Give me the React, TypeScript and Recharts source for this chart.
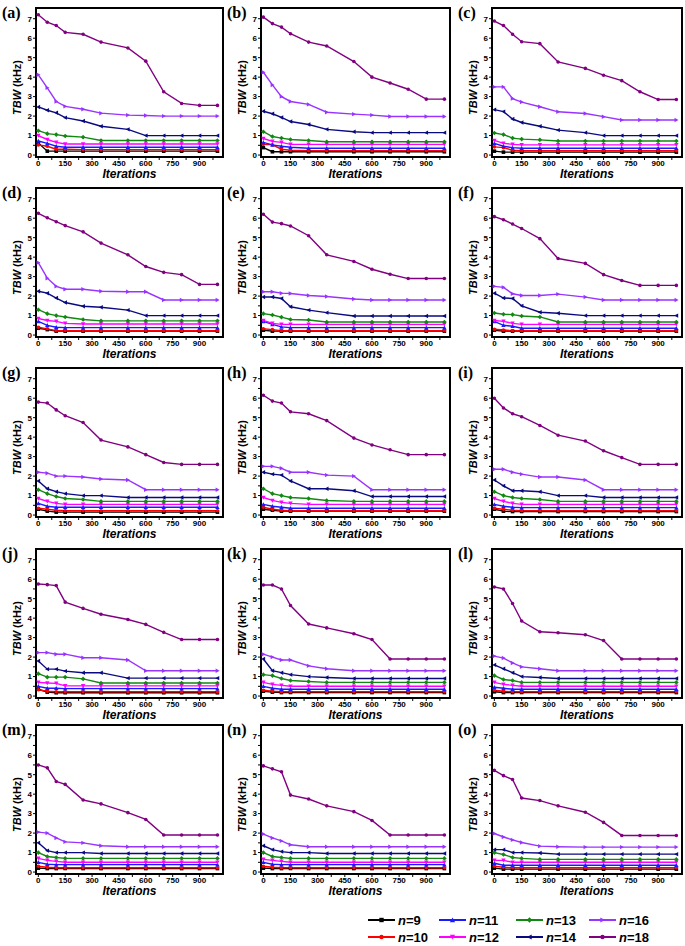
import React from "react";
import { LineChart, Line, XAxis, YAxis, ReferenceArea } from "recharts";

const ITERATIONS = [0, 50, 100, 150, 250, 350, 500, 600, 700, 800, 900, 1000];
const PANEL_LETTERS = ["a", "b", "c", "d", "e", "f", "g", "h", "i", "j", "k", "l", "m", "n", "o"];
const SERIES = ["n9", "n10", "n11", "n12", "n13", "n14", "n16", "n18"];
const SERIES_LABELS = ["9", "10", "11", "12", "13", "14", "16", "18"];
const X_TICKS = [0, 75, 150, 225, 300, 375, 450, 525, 600, 675, 750, 825, 900, 975];
const Y_TICKS = [0, 0.5, 1, 1.5, 2, 2.5, 3, 3.5, 4, 4.5, 5, 5.5, 6, 6.5, 7];

// each array: one row per panel (a)..(o), values at ITERATIONS
const N9 = [
  [0.62, 0.2, 0.2, 0.2, 0.2, 0.2, 0.2, 0.2, 0.2, 0.2, 0.2, 0.2],
  [0.38, 0.17, 0.17, 0.17, 0.17, 0.17, 0.17, 0.17, 0.17, 0.17, 0.17, 0.17],
  [0.2, 0.15, 0.15, 0.15, 0.15, 0.15, 0.15, 0.15, 0.15, 0.15, 0.15, 0.15],
  [0.35, 0.28, 0.2, 0.2, 0.2, 0.2, 0.2, 0.2, 0.2, 0.2, 0.2, 0.2],
  [0.25, 0.2, 0.2, 0.2, 0.2, 0.2, 0.2, 0.2, 0.2, 0.2, 0.2, 0.2],
  [0.25, 0.2, 0.2, 0.2, 0.2, 0.2, 0.2, 0.2, 0.2, 0.2, 0.2, 0.2],
  [0.3, 0.2, 0.15, 0.15, 0.15, 0.15, 0.15, 0.15, 0.15, 0.15, 0.15, 0.15],
  [0.3, 0.25, 0.2, 0.2, 0.2, 0.2, 0.2, 0.2, 0.2, 0.2, 0.2, 0.2],
  [0.3, 0.2, 0.18, 0.18, 0.18, 0.18, 0.18, 0.18, 0.18, 0.18, 0.18, 0.18],
  [0.35, 0.2, 0.17, 0.17, 0.17, 0.17, 0.17, 0.17, 0.17, 0.17, 0.17, 0.17],
  [0.25, 0.2, 0.18, 0.18, 0.18, 0.18, 0.18, 0.18, 0.18, 0.18, 0.18, 0.18],
  [0.22, 0.18, 0.18, 0.18, 0.18, 0.18, 0.18, 0.18, 0.18, 0.18, 0.18, 0.18],
  [0.2, 0.18, 0.18, 0.18, 0.18, 0.18, 0.18, 0.18, 0.18, 0.18, 0.18, 0.18],
  [0.2, 0.18, 0.18, 0.18, 0.18, 0.18, 0.18, 0.18, 0.18, 0.18, 0.18, 0.18],
  [0.2, 0.15, 0.15, 0.15, 0.15, 0.15, 0.15, 0.15, 0.15, 0.15, 0.15, 0.15],
];
const N10 = [
  [0.52, 0.45, 0.3, 0.3, 0.28, 0.28, 0.28, 0.28, 0.28, 0.28, 0.28, 0.28],
  [0.55, 0.52, 0.3, 0.25, 0.22, 0.22, 0.22, 0.22, 0.22, 0.22, 0.22, 0.22],
  [0.42, 0.38, 0.25, 0.22, 0.22, 0.22, 0.22, 0.22, 0.22, 0.22, 0.22, 0.22],
  [0.4, 0.32, 0.22, 0.22, 0.22, 0.22, 0.22, 0.22, 0.22, 0.22, 0.22, 0.22],
  [0.32, 0.28, 0.22, 0.22, 0.22, 0.22, 0.22, 0.22, 0.22, 0.22, 0.22, 0.22],
  [0.3, 0.26, 0.22, 0.22, 0.22, 0.22, 0.22, 0.22, 0.22, 0.22, 0.22, 0.22],
  [0.35, 0.3, 0.25, 0.22, 0.22, 0.22, 0.22, 0.22, 0.22, 0.22, 0.22, 0.22],
  [0.4, 0.3, 0.25, 0.22, 0.22, 0.22, 0.22, 0.22, 0.22, 0.22, 0.22, 0.22],
  [0.35, 0.3, 0.25, 0.22, 0.22, 0.22, 0.22, 0.22, 0.22, 0.22, 0.22, 0.22],
  [0.32, 0.25, 0.22, 0.22, 0.22, 0.22, 0.22, 0.22, 0.22, 0.22, 0.22, 0.22],
  [0.3, 0.25, 0.22, 0.22, 0.22, 0.22, 0.22, 0.22, 0.22, 0.22, 0.22, 0.22],
  [0.3, 0.25, 0.22, 0.22, 0.22, 0.22, 0.22, 0.22, 0.22, 0.22, 0.22, 0.22],
  [0.3, 0.25, 0.22, 0.22, 0.22, 0.22, 0.22, 0.22, 0.22, 0.22, 0.22, 0.22],
  [0.3, 0.25, 0.22, 0.22, 0.22, 0.22, 0.22, 0.22, 0.22, 0.22, 0.22, 0.22],
  [0.3, 0.25, 0.22, 0.22, 0.22, 0.22, 0.22, 0.22, 0.22, 0.22, 0.22, 0.22],
];
const N11 = [
  [0.72, 0.6, 0.45, 0.4, 0.4, 0.4, 0.4, 0.4, 0.4, 0.4, 0.4, 0.4],
  [0.65, 0.52, 0.45, 0.4, 0.35, 0.35, 0.35, 0.35, 0.35, 0.35, 0.35, 0.35],
  [0.6, 0.45, 0.38, 0.35, 0.35, 0.35, 0.35, 0.35, 0.35, 0.35, 0.35, 0.35],
  [0.7, 0.5, 0.4, 0.38, 0.38, 0.38, 0.38, 0.38, 0.38, 0.38, 0.38, 0.38],
  [0.7, 0.55, 0.42, 0.38, 0.38, 0.38, 0.38, 0.38, 0.38, 0.38, 0.38, 0.38],
  [0.7, 0.5, 0.45, 0.35, 0.35, 0.35, 0.35, 0.35, 0.35, 0.35, 0.35, 0.35],
  [0.6, 0.45, 0.4, 0.4, 0.4, 0.4, 0.4, 0.4, 0.4, 0.4, 0.4, 0.4],
  [0.55, 0.45, 0.4, 0.35, 0.35, 0.35, 0.35, 0.35, 0.35, 0.35, 0.35, 0.35],
  [0.55, 0.45, 0.4, 0.38, 0.38, 0.38, 0.38, 0.38, 0.38, 0.38, 0.38, 0.38],
  [0.5, 0.4, 0.4, 0.38, 0.38, 0.38, 0.38, 0.38, 0.38, 0.38, 0.38, 0.38],
  [0.5, 0.4, 0.35, 0.35, 0.35, 0.35, 0.35, 0.35, 0.35, 0.35, 0.35, 0.35],
  [0.45, 0.4, 0.35, 0.35, 0.35, 0.35, 0.35, 0.35, 0.35, 0.35, 0.35, 0.35],
  [0.5, 0.4, 0.38, 0.38, 0.38, 0.38, 0.38, 0.38, 0.38, 0.38, 0.38, 0.38],
  [0.5, 0.4, 0.38, 0.38, 0.38, 0.38, 0.38, 0.38, 0.38, 0.38, 0.38, 0.38],
  [0.45, 0.35, 0.35, 0.35, 0.35, 0.35, 0.35, 0.35, 0.35, 0.35, 0.35, 0.35],
];
const N12 = [
  [1.0, 0.8, 0.65, 0.57, 0.57, 0.57, 0.57, 0.57, 0.57, 0.57, 0.57, 0.57],
  [0.85, 0.7, 0.65, 0.55, 0.55, 0.55, 0.55, 0.55, 0.55, 0.55, 0.55, 0.55],
  [0.75, 0.6, 0.55, 0.52, 0.52, 0.52, 0.52, 0.52, 0.52, 0.52, 0.52, 0.52],
  [0.85, 0.75, 0.7, 0.6, 0.57, 0.57, 0.57, 0.57, 0.57, 0.57, 0.57, 0.57],
  [0.75, 0.6, 0.55, 0.55, 0.55, 0.55, 0.55, 0.55, 0.55, 0.55, 0.55, 0.55],
  [0.75, 0.7, 0.6, 0.55, 0.55, 0.55, 0.55, 0.55, 0.55, 0.55, 0.55, 0.55],
  [0.85, 0.7, 0.6, 0.55, 0.55, 0.55, 0.55, 0.55, 0.55, 0.55, 0.55, 0.55],
  [0.9, 0.75, 0.65, 0.6, 0.55, 0.55, 0.55, 0.55, 0.55, 0.55, 0.55, 0.55],
  [0.85, 0.7, 0.6, 0.55, 0.55, 0.55, 0.55, 0.55, 0.55, 0.55, 0.55, 0.55],
  [0.7, 0.67, 0.65, 0.52, 0.52, 0.52, 0.52, 0.52, 0.52, 0.52, 0.52, 0.52],
  [0.7, 0.6, 0.55, 0.5, 0.5, 0.5, 0.5, 0.5, 0.5, 0.5, 0.5, 0.5],
  [0.7, 0.6, 0.55, 0.5, 0.5, 0.5, 0.5, 0.5, 0.5, 0.5, 0.5, 0.5],
  [0.7, 0.6, 0.55, 0.5, 0.5, 0.5, 0.5, 0.5, 0.5, 0.5, 0.5, 0.5],
  [0.65, 0.6, 0.55, 0.5, 0.5, 0.5, 0.5, 0.5, 0.5, 0.5, 0.5, 0.5],
  [0.6, 0.6, 0.5, 0.5, 0.5, 0.5, 0.5, 0.5, 0.5, 0.5, 0.5, 0.5],
];
const N13 = [
  [1.25, 1.1, 1.05, 0.98, 0.92, 0.75, 0.75, 0.75, 0.75, 0.75, 0.75, 0.75],
  [1.2, 0.95, 0.87, 0.8, 0.75, 0.68, 0.68, 0.68, 0.68, 0.68, 0.68, 0.68],
  [1.13, 1.05, 0.87, 0.82, 0.78, 0.72, 0.72, 0.72, 0.72, 0.72, 0.72, 0.72],
  [1.3, 1.1, 1.0, 0.93, 0.8, 0.73, 0.73, 0.73, 0.73, 0.73, 0.73, 0.73],
  [1.1, 1.03, 0.92, 0.8, 0.77, 0.67, 0.67, 0.67, 0.67, 0.67, 0.67, 0.67],
  [1.13, 1.07, 1.05, 0.98, 0.93, 0.67, 0.67, 0.67, 0.67, 0.67, 0.67, 0.67],
  [1.3, 1.1, 0.95, 0.85, 0.8, 0.7, 0.7, 0.7, 0.7, 0.7, 0.7, 0.7],
  [1.35, 1.1, 1.0, 0.9, 0.85, 0.75, 0.7, 0.7, 0.7, 0.7, 0.7, 0.7],
  [1.2, 1.0, 0.9, 0.85, 0.8, 0.7, 0.7, 0.7, 0.7, 0.7, 0.7, 0.7],
  [1.15, 0.97, 0.97, 0.97, 0.88, 0.67, 0.67, 0.67, 0.67, 0.67, 0.67, 0.67],
  [1.1, 1.05, 0.9, 0.8, 0.75, 0.7, 0.7, 0.7, 0.7, 0.7, 0.7, 0.7],
  [1.05, 0.85, 0.8, 0.7, 0.7, 0.7, 0.7, 0.7, 0.7, 0.7, 0.7, 0.7],
  [1.0, 0.8, 0.75, 0.7, 0.7, 0.7, 0.7, 0.7, 0.7, 0.7, 0.7, 0.7],
  [1.0, 0.8, 0.75, 0.7, 0.7, 0.7, 0.7, 0.7, 0.7, 0.7, 0.7, 0.7],
  [1.0, 0.9, 0.75, 0.7, 0.65, 0.65, 0.65, 0.65, 0.65, 0.65, 0.65, 0.65],
];
const N14 = [
  [2.47, 2.3, 2.17, 1.92, 1.75, 1.48, 1.32, 1.0, 1.0, 1.0, 1.0, 1.0],
  [2.25, 2.12, 1.93, 1.72, 1.57, 1.32, 1.2, 1.15, 1.15, 1.15, 1.15, 1.15],
  [2.33, 2.23, 1.85, 1.67, 1.48, 1.28, 1.15, 1.0, 1.0, 1.0, 1.0, 1.0],
  [2.25, 2.15, 1.9, 1.67, 1.48, 1.43, 1.28, 1.0, 1.0, 1.0, 1.0, 1.0],
  [1.95, 1.95, 1.88, 1.45, 1.28, 1.15, 0.98, 0.98, 0.98, 0.98, 0.98, 0.98],
  [2.15, 1.9, 1.88, 1.5, 1.17, 1.12, 1.0, 1.0, 1.0, 1.0, 1.0, 1.0],
  [1.75, 1.35, 1.2, 1.1, 1.0, 1.0, 0.9, 0.9, 0.9, 0.9, 0.9, 0.9],
  [2.2, 2.1, 2.05, 1.75, 1.35, 1.35, 1.25, 0.95, 0.95, 0.95, 0.95, 0.95],
  [1.8, 1.5, 1.25, 1.25, 1.2, 1.0, 1.0, 0.9, 0.9, 0.9, 0.9, 0.9],
  [1.8, 1.38, 1.38, 1.28, 1.2, 1.2, 0.92, 0.92, 0.92, 0.92, 0.92, 0.92],
  [1.9, 1.3, 1.2, 1.1, 1.0, 0.95, 0.9, 0.9, 0.9, 0.9, 0.9, 0.9],
  [1.6, 1.4, 1.2, 1.0, 0.95, 0.9, 0.9, 0.9, 0.9, 0.9, 0.9, 0.9],
  [1.5, 1.1, 1.0, 1.0, 1.0, 0.95, 0.95, 0.95, 0.95, 0.95, 0.95, 0.95],
  [1.35, 1.15, 1.05, 1.0, 1.0, 0.95, 0.95, 0.95, 0.95, 0.95, 0.95, 0.95],
  [1.15, 1.15, 1.0, 1.0, 0.98, 0.92, 0.92, 0.92, 0.92, 0.92, 0.92, 0.92],
];
const N16 = [
  [4.12, 3.45, 2.75, 2.5, 2.35, 2.15, 2.05, 2.03, 2.0, 2.0, 2.0, 2.0],
  [4.25, 3.6, 3.0, 2.75, 2.6, 2.2, 2.1, 2.05, 1.98, 1.98, 1.98, 1.98],
  [3.5, 3.5, 2.9, 2.72, 2.48, 2.22, 2.13, 1.97, 1.8, 1.8, 1.8, 1.8],
  [3.72, 2.92, 2.5, 2.35, 2.35, 2.25, 2.22, 2.22, 1.8, 1.8, 1.8, 1.8],
  [2.22, 2.22, 2.15, 2.13, 2.03, 1.98, 1.85, 1.8, 1.8, 1.8, 1.8, 1.8],
  [2.5, 2.45, 2.12, 2.03, 2.03, 2.1, 1.95, 1.8, 1.8, 1.8, 1.8, 1.8],
  [2.2, 2.15, 2.0, 2.0, 1.95, 1.85, 1.8, 1.3, 1.3, 1.3, 1.3, 1.3],
  [2.5, 2.5, 2.4, 2.2, 2.2, 2.05, 2.0, 1.3, 1.3, 1.3, 1.3, 1.3],
  [2.35, 2.35, 2.2, 2.1, 1.95, 1.95, 1.8, 1.3, 1.3, 1.3, 1.3, 1.3],
  [2.23, 2.23, 2.15, 2.15, 1.97, 1.97, 1.85, 1.3, 1.3, 1.3, 1.3, 1.3],
  [2.15, 2.0, 1.85, 1.85, 1.55, 1.4, 1.3, 1.3, 1.3, 1.3, 1.3, 1.3],
  [2.05, 1.95, 1.7, 1.5, 1.4, 1.3, 1.3, 1.3, 1.3, 1.3, 1.3, 1.3],
  [2.05, 2.0, 1.75, 1.55, 1.5, 1.35, 1.3, 1.3, 1.3, 1.3, 1.3, 1.3],
  [1.95, 1.75, 1.6, 1.4, 1.3, 1.3, 1.3, 1.3, 1.3, 1.3, 1.3, 1.3],
  [1.98, 1.8, 1.65, 1.52, 1.33, 1.3, 1.28, 1.28, 1.28, 1.28, 1.28, 1.28],
];
const N18 = [
  [7.2, 6.82, 6.65, 6.3, 6.2, 5.8, 5.5, 4.82, 3.25, 2.65, 2.55, 2.55],
  [7.08, 6.75, 6.57, 6.23, 5.8, 5.6, 4.8, 4.0, 3.7, 3.38, 2.87, 2.87],
  [6.88, 6.65, 6.2, 5.82, 5.72, 4.78, 4.45, 4.1, 3.82, 3.25, 2.85, 2.85],
  [6.25, 6.02, 5.82, 5.62, 5.3, 4.72, 4.12, 3.52, 3.22, 3.1, 2.6, 2.6],
  [6.2, 5.8, 5.72, 5.6, 5.1, 4.12, 3.78, 3.38, 3.12, 2.9, 2.9, 2.9],
  [6.08, 5.92, 5.7, 5.47, 4.95, 3.93, 3.68, 3.1, 2.8, 2.55, 2.55, 2.55],
  [5.8, 5.75, 5.4, 5.1, 4.75, 3.85, 3.5, 3.1, 2.7, 2.6, 2.6, 2.6],
  [6.15, 5.85, 5.75, 5.3, 5.2, 4.85, 3.95, 3.6, 3.35, 3.1, 3.1, 3.1],
  [6.0, 5.5, 5.2, 5.05, 4.6, 4.1, 3.8, 3.3, 2.95, 2.6, 2.6, 2.6],
  [5.75, 5.72, 5.67, 4.82, 4.5, 4.2, 3.93, 3.68, 3.27, 2.9, 2.9, 2.9],
  [5.7, 5.7, 5.5, 4.65, 3.7, 3.5, 3.2, 2.9, 1.9, 1.9, 1.9, 1.9],
  [5.6, 5.5, 4.75, 3.85, 3.3, 3.25, 3.15, 2.85, 1.9, 1.9, 1.9, 1.9],
  [5.5, 5.35, 4.65, 4.5, 3.7, 3.5, 3.05, 2.7, 1.9, 1.9, 1.9, 1.9],
  [5.45, 5.3, 5.15, 3.95, 3.75, 3.4, 3.1, 2.65, 1.9, 1.9, 1.9, 1.9],
  [5.22, 4.95, 4.75, 3.8, 3.67, 3.4, 3.07, 2.55, 1.88, 1.88, 1.88, 1.88],
];

const SERIES_DATA = [N9, N10, N11, N12, N13, N14, N16, N18];
const COLORS = ["#000000", "#ff0000", "#1a1aff", "#ff00ff", "#118811", "#0a0a80", "#9933ff", "#800080"];
const SHAPES = ["square", "circle", "up", "down", "diamond", "left", "right", "circle"];

// layout (page pixels) of each plot box
const COL_LEFT = [36, 261, 492];
const COL_W = [187, 189, 190];
const ROW_TOP = [8, 188, 368, 549, 725];
const PLOT_H = 149;
const X_DOMAIN = [-13, 1031];
const Y_DOMAIN = [-0.1, 7.55];
const FONT = '"Liberation Sans", Arial, sans-serif';

function markerPath(shape: string, cx: number, cy: number, r: number) {
  switch (shape) {
    case "square":
      return `M${cx - r},${cy - r}h${2 * r}v${2 * r}h${-2 * r}Z`;
    case "up":
      return `M${cx},${cy - r - 0.4}L${cx + r + 0.4},${cy + r}L${cx - r - 0.4},${cy + r}Z`;
    case "down":
      return `M${cx},${cy + r + 0.4}L${cx + r + 0.4},${cy - r}L${cx - r - 0.4},${cy - r}Z`;
    case "diamond":
      return `M${cx},${cy - r - 0.5}L${cx + r + 0.5},${cy}L${cx},${cy + r + 0.5}L${cx - r - 0.5},${cy}Z`;
    case "left":
      return `M${cx - r - 0.4},${cy}L${cx + r},${cy - r - 0.4}L${cx + r},${cy + r + 0.4}Z`;
    case "right":
      return `M${cx + r + 0.4},${cy}L${cx - r},${cy - r - 0.4}L${cx - r},${cy + r + 0.4}Z`;
    default:
      return `M${cx - r},${cy}a${r},${r} 0 1,0 ${2 * r},0a${r},${r} 0 1,0 ${-2 * r},0`;
  }
}

function makeDot(k: number) {
  return (props: any) => {
    const { cx, cy, index } = props;
    if (cx == null || cy == null) return <g key={`${SERIES[k]}-${index}`} />;
    return <path key={`${SERIES[k]}-${index}`} d={markerPath(SHAPES[k], cx, cy, 1.8)} fill={COLORS[k]} stroke="none" />;
  };
}

function panelRows(p: number) {
  return ITERATIONS.map((it, i) => {
    const row: Record<string, number> = { it };
    SERIES.forEach((s, k) => {
      row[s] = SERIES_DATA[k][p][i];
    });
    return row;
  });
}

const tickStyle = { fontSize: 8, fontWeight: 700, fill: "#000", fontFamily: FONT };

function YTitle(props: any) {
  const vb = props.viewBox;
  const x = vb.x + 21;
  const y = vb.y + vb.height / 2 + 5;
  return (
    <text x={x} y={y} transform={`rotate(-90 ${x} ${y})`} textAnchor="middle" fontFamily={FONT} fontWeight={700} fontSize={11} fill="#000">
      <tspan fontStyle="italic">TBW</tspan> (kHz)
    </text>
  );
}

function XTitle(props: any) {
  const vb = props.viewBox;
  return (
    <text x={vb.x + vb.width / 2} y={vb.y + 21} textAnchor="middle" fontFamily={FONT} fontWeight={700} fontStyle="italic" fontSize={12} fill="#000">
      Iterations
    </text>
  );
}

function Panel({ p }: { p: number }) {
  const col = p % 3;
  const row = Math.floor(p / 3);
  const left = COL_LEFT[col];
  const top = ROW_TOP[row];
  const w = COL_W[col];
  return (
    <>
      <div
        style={{
          position: "absolute",
          left: left - 34,
          top: top - 3,
          fontFamily: '"Liberation Serif", "Times New Roman", serif',
          fontWeight: 700,
          fontSize: 16,
          lineHeight: "16px",
        }}
      >
        ({PANEL_LETTERS[p]})
      </div>
      <div style={{ position: "absolute", left: left - 36, top: top - 2 }}>
        <LineChart width={w + 38} height={PLOT_H + 32} data={panelRows(p)} margin={{ top: 2, right: 2, left: 0, bottom: 0 }}>
          <XAxis
            dataKey="it"
            type="number"
            domain={X_DOMAIN}
            allowDataOverflow
            ticks={X_TICKS}
            interval={0}
            tickFormatter={(v: number) => (v % 150 === 0 && v <= 900 ? String(v) : "")}
            height={30}
            tickSize={3}
            tickMargin={0}
            tick={tickStyle}
            axisLine={{ stroke: "#000", strokeWidth: 2 }}
            tickLine={{ stroke: "#000", strokeWidth: 1 }}
            label={<XTitle />}
          />
          <YAxis
            type="number"
            domain={Y_DOMAIN}
            allowDataOverflow
            ticks={Y_TICKS}
            interval={0}
            tickFormatter={(v: number) => (Number.isInteger(v) ? String(v) : "")}
            width={36}
            tickSize={3}
            tickMargin={1}
            tick={tickStyle}
            axisLine={{ stroke: "#000", strokeWidth: 2 }}
            tickLine={{ stroke: "#000", strokeWidth: 1 }}
            label={<YTitle />}
          />
          <ReferenceArea
            x1={X_DOMAIN[0]}
            x2={X_DOMAIN[1]}
            y1={Y_DOMAIN[0]}
            y2={Y_DOMAIN[1]}
            fill="none"
            stroke="#000"
            strokeWidth={2}
          />
          {SERIES.map((s, k) => (
            <Line
              key={s}
              dataKey={s}
              type="linear"
              stroke={COLORS[k]}
              strokeWidth={1.4}
              dot={makeDot(k)}
              activeDot={false}
              isAnimationActive={false}
            />
          ))}
        </LineChart>
      </div>
    </>
  );
}

const LEGEND_X = [368, 439, 516, 589];
const LEGEND_Y = [920, 937];

function LegendBlock() {
  return (
    <>
      {SERIES.map((s, k) => {
        const col = Math.floor(k / 2);
        const row = k % 2;
        const x = LEGEND_X[col];
        const y = LEGEND_Y[row];
        return (
          <div key={s} style={{ position: "absolute", left: x, top: y - 9, height: 18, display: "flex", alignItems: "center" }}>
            <svg width={28} height={18} style={{ display: "block" }}>
              <line x1={0} y1={9} x2={27} y2={9} stroke={COLORS[k]} strokeWidth={2} />
              <path d={markerPath(SHAPES[k], 13.5, 9, 2.2)} fill={COLORS[k]} />
            </svg>
            <span style={{ marginLeft: 2, fontFamily: FONT, fontWeight: 700, fontSize: 13, color: "#000", whiteSpace: "nowrap" }}>
              <i>n</i>={SERIES_LABELS[k]}
            </span>
          </div>
        );
      })}
    </>
  );
}

export default function App() {
  return (
    <div style={{ position: "absolute", left: 0, top: 0, width: 685, height: 946, background: "#fff", overflow: "hidden" }}>
      {PANEL_LETTERS.map((_, p) => (
        <Panel key={p} p={p} />
      ))}
      <LegendBlock />
    </div>
  );
}
